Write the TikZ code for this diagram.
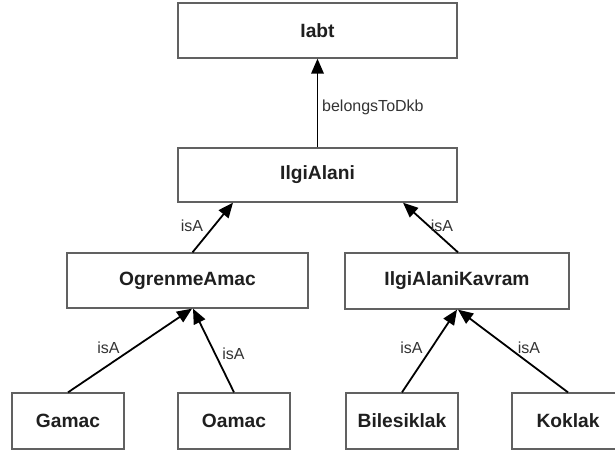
\documentclass[tikz,border=0pt]{standalone}
\usepackage{fontspec}
\setmainfont{Liberation Sans}
\usetikzlibrary{arrows.meta}
\begin{document}
\begin{tikzpicture}[x=1pt,y=1pt,
  cls/.style={draw=black!62, line width=1.3pt, fill=white, inner sep=0pt,
    minimum height=55pt, font=\fontsize{19.2}{21}\selectfont\bfseries, text=black!88},
  rel/.style={draw=black, line width=1.8pt,
    -{Triangle[length=15pt,width=12.5pt]}},
  lbl/.style={inner sep=0pt, font=\fontsize{16}{17}\selectfont, text=black!80}]
\useasboundingbox (0,0) rectangle (615,-451);

% class boxes
\node[cls, minimum width=279pt] (labt) at (317.5,-30.5) {Iabt};
\node[cls, minimum width=279pt, minimum height=54pt] (alani) at (317.5,-175) {IlgiAlani};
\node[cls, minimum width=241pt] (ogrenme) at (187.5,-280.5) {OgrenmeAmac};
\node[cls, minimum width=224pt, minimum height=56pt] (kavram) at (457,-281) {IlgiAlaniKavram};
\node[cls, minimum width=112pt, minimum height=56pt] (gamac) at (68,-421) {Gamac};
\node[cls, minimum width=112pt, minimum height=56pt] (oamac) at (234,-421) {Oamac};
\node[cls, minimum width=112pt, minimum height=56pt] (biles) at (402,-421) {Bilesiklak};
\node[cls, minimum width=112pt, minimum height=56pt] (koklak) at (568,-421) {Koklak};

% relations
\draw[rel] (alani.north) -- (labt.south);
\draw[rel] ([xshift=5pt]ogrenme.north) -- ([xshift=-84.5pt]alani.south);
\draw[rel] ([xshift=1pt]kavram.north) -- ([xshift=85.5pt]alani.south);
\draw[rel] (gamac.north) -- ([xshift=4.5pt]ogrenme.south);
\draw[rel] (oamac.north) -- ([xshift=5.5pt]ogrenme.south);
\draw[rel] (biles.north) -- (kavram.south);
\draw[rel] (koklak.north) -- ([xshift=1pt]kavram.south);

% relation labels
\node[lbl, anchor=west] (l0) at (322,-107) {belongsToDkb};
\node[lbl] (l1) at (192,-226) {isA};
\node[lbl] (l2) at (442,-226) {isA};
\node[lbl] (l3) at (108.5,-348) {isA};
\node[lbl] (l4) at (233.5,-353.5) {isA};
\node[lbl] (l5) at (411.5,-348) {isA};
\node[lbl] (l6) at (529,-348) {isA};
\end{tikzpicture}
\end{document}
